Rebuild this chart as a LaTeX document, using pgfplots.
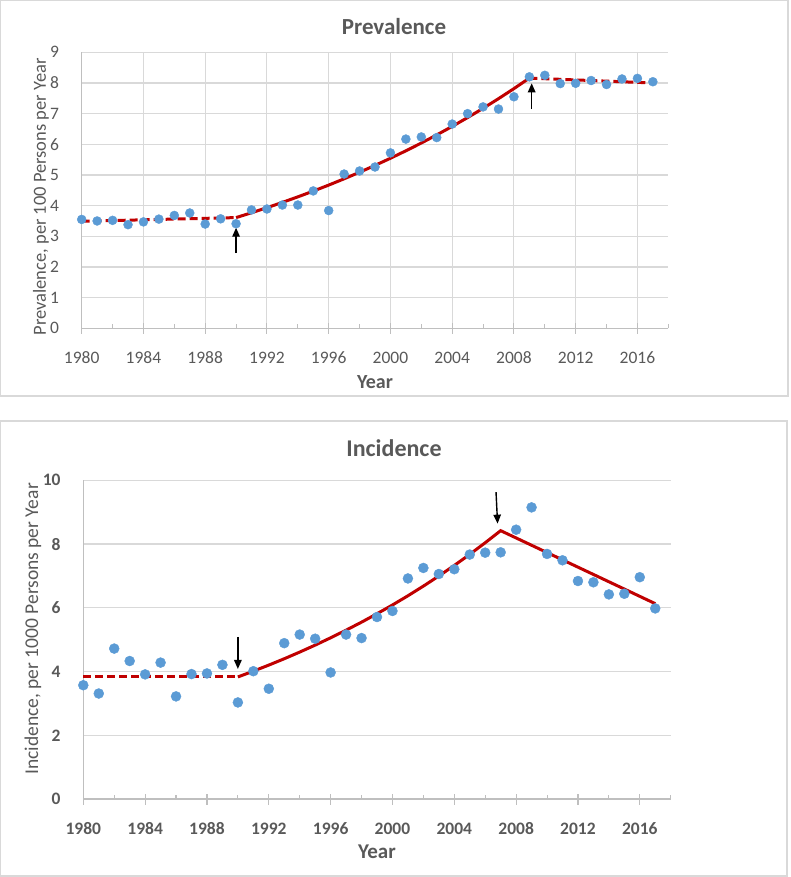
\documentclass[border=0pt]{standalone}
\usepackage{fontspec}
\setmainfont{Carlito}
\usepackage{pgfplots}
\usepackage{pgfplotstable}
\pgfplotsset{compat=1.18}
\usetikzlibrary{arrows.meta}
\definecolor{gridc}{HTML}{D9D9D9}
\definecolor{axc}{HTML}{BFBFBF}
\definecolor{txt}{HTML}{595959}
\definecolor{dotc}{HTML}{5B9BD5}
\definecolor{fitc}{HTML}{C00000}

\pgfplotstableread{
year val
1980 3.55
1981 3.50
1982 3.52
1983 3.38
1984 3.47
1985 3.56
1986 3.68
1987 3.76
1988 3.40
1989 3.57
1990 3.41
1991 3.86
1992 3.89
1993 4.02
1994 4.02
1995 4.48
1996 3.84
1997 5.03
1998 5.13
1999 5.26
2000 5.72
2001 6.17
2002 6.24
2003 6.22
2004 6.66
2005 7.00
2006 7.22
2007 7.15
2008 7.55
2009 8.20
2010 8.25
2011 7.98
2012 7.99
2013 8.08
2014 7.95
2015 8.13
2016 8.15
2017 8.04
}\prevdata

\pgfplotstableread{
year val
1980 3.57
1981 3.31
1982 4.72
1983 4.33
1984 3.91
1985 4.28
1986 3.22
1987 3.92
1988 3.94
1989 4.21
1990 3.03
1991 4.01
1992 3.46
1993 4.89
1994 5.16
1995 5.03
1996 3.97
1997 5.16
1998 5.05
1999 5.71
2000 5.90
2001 6.92
2002 7.25
2003 7.06
2004 7.21
2005 7.67
2006 7.73
2007 7.74
2008 8.45
2009 9.15
2010 7.69
2011 7.49
2012 6.84
2013 6.80
2014 6.42
2015 6.44
2016 6.96
2017 5.98
}\incdata

\pgfplotsset{
  common/.style={
    scale only axis, clip=false,
    xmin=1980, xmax=2018,
    xtick={1980,1984,...,2016},
    minor xtick={1982,1986,...,2018},
    axis x line*=bottom, axis y line*=left,
    axis line style={axc, line width=1.1pt, -},
    tick align=center,
    major tick length=11pt, minor tick length=4pt,
    tick style={axc, line width=1.1pt},
    every minor tick/.append style={yshift=2pt},
    ytick style={draw=none},
    grid style={gridc, line width=1.1pt},
    /pgf/number format/1000 sep={},
    /pgf/number format/assume math mode=true,
    xticklabel style={inner sep=0pt, anchor=center, yshift=-24pt, text=txt},
    yticklabel style={inner sep=0pt, anchor=east, xshift=-17pt, text=txt},
  },
  fitline/.style={fitc, line width=3pt, no marks},
  fitdash/.style={fitc, line width=3pt, no marks, dash pattern=on 8pt off 4pt},
}

\begin{document}
\begin{tikzpicture}
\useasboundingbox (0pt,0pt) rectangle (790pt,-877pt);
\draw[gridc, line width=1.3pt] (0.7pt,-0.7pt) rectangle (788pt,-396pt);
\draw[gridc, line width=1.3pt] (0.7pt,-421pt) rectangle (787pt,-876pt);

% ---------- Prevalence ----------
\begin{axis}[common,
  at={(81.7pt,-328.3pt)}, anchor=south west,
  width=586.6pt, height=276pt,
  ymin=0, ymax=9, ytick={0,1,...,9},
  xmajorgrids, ymajorgrids,
  ticklabel style={font=\fontsize{17.5}{20}\selectfont},
]
\addplot[fitdash] coordinates {(1980,3.49) (1990,3.61)};
\addplot[fitline] coordinates {
(1990,3.610) (1991,3.768) (1992,3.933) (1993,4.106) (1994,4.286)
(1995,4.474) (1996,4.670) (1997,4.875) (1998,5.089) (1999,5.312)
(2000,5.545) (2001,5.788) (2002,6.042) (2003,6.307) (2004,6.583)
(2005,6.872) (2006,7.173) (2007,7.488) (2008,7.816) (2009,8.159)};
\addplot[fitdash] coordinates {(2009,8.159) (2017,8.00)};
\addplot[only marks, mark=*, mark size=4.5pt, dotc, mark options={draw=dotc, fill=dotc}] table[x=year, y=val] {\prevdata};
\draw[black, line width=1.4pt, -{Triangle[length=9pt, width=7.5pt]}] (axis cs:1990,2.45) -- (axis cs:1990,3.28);
\draw[black, line width=1.4pt, -{Triangle[length=9pt, width=7.5pt]}] (axis cs:2009.15,7.15) -- (axis cs:2009.15,7.99);
\end{axis}

% ---------- Incidence ----------
\begin{axis}[common,
  at={(83.3pt,-799pt)}, anchor=south west,
  width=587.4pt, height=318.7pt,
  ymin=0, ymax=10, ytick={0,2,...,10},
  ymajorgrids,
  ticklabel style={font=\fontsize{17.5}{20}\selectfont\bfseries},
]
\addplot[fitdash] coordinates {(1980,3.83) (1990,3.83)};
\addplot[fitline] coordinates {
(1990,3.830) (1991,4.012) (1992,4.202) (1993,4.401) (1994,4.610)
(1995,4.829) (1996,5.058) (1997,5.298) (1998,5.549) (1999,5.813)
(2000,6.088) (2001,6.377) (2002,6.680) (2003,6.997) (2004,7.329)
(2005,7.676) (2006,8.041) (2007,8.420)
(2008,8.191) (2009,7.962) (2010,7.733) (2011,7.504) (2012,7.275)
(2013,7.046) (2014,6.817) (2015,6.588) (2016,6.359) (2017,6.130)};
\addplot[only marks, mark=*, mark size=5pt, dotc, mark options={draw=dotc, fill=dotc}] table[x=year, y=val] {\incdata};
\draw[black, line width=1.4pt, -{Triangle[length=9pt, width=7.5pt]}] (axis cs:1990,5.09) -- (axis cs:1990,4.08);
\draw[black, line width=1.4pt, -{Triangle[length=9pt, width=7.5pt]}] (axis cs:2006.7,9.63) -- (axis cs:2006.8,8.64);
\end{axis}

% ---------- texts ----------
\node[text=txt, font=\fontsize{23}{27}\selectfont\bfseries] at (394pt,-27pt) {Prevalence};
\node[text=txt, font=\fontsize{24}{28}\selectfont\bfseries] at (394pt,-448pt) {Incidence};
\node[text=txt, font=\fontsize{20}{24}\selectfont\bfseries] at (375pt,-381.7pt) {Year};
\node[text=txt, font=\fontsize{21}{25}\selectfont\bfseries] at (377pt,-852pt) {Year};
\node[text=txt, font=\fontsize{18.5}{22}\selectfont, rotate=90] at (41pt,-197pt) {Prevalence, per 100 Persons per Year};
\node[text=txt, font=\fontsize{19.5}{23}\selectfont, rotate=90] at (33pt,-629pt) {Incidence, per 1000 Persons per Year};
\end{tikzpicture}
\end{document}
